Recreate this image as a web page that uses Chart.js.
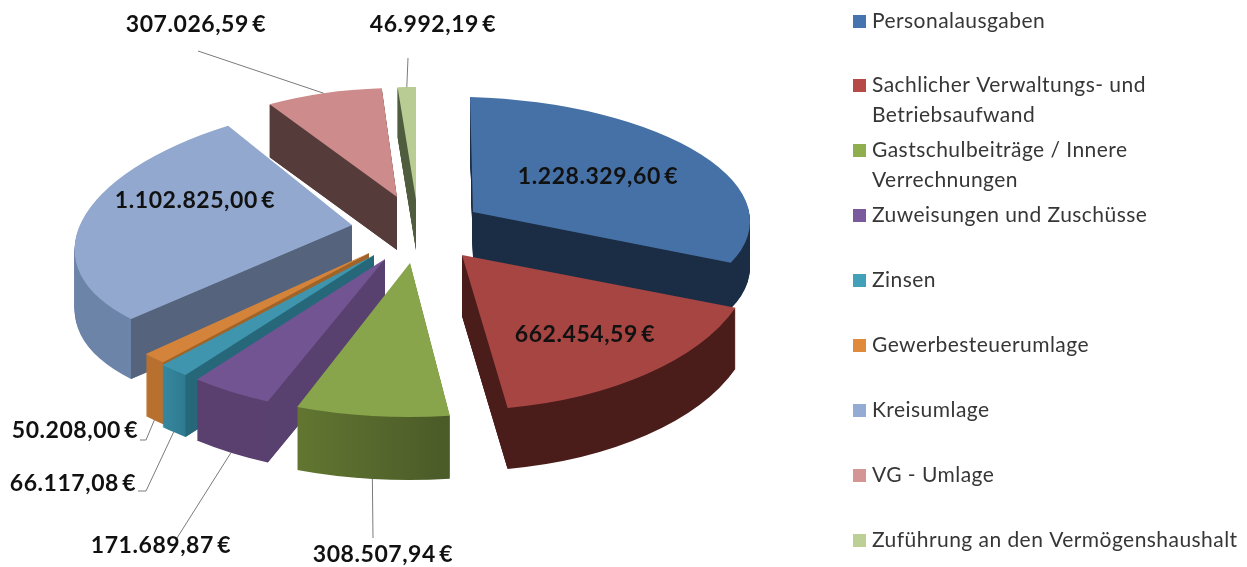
<!DOCTYPE html>
<html><head><meta charset="utf-8">
<script src="https://cdn.jsdelivr.net/npm/chart.js@4/dist/chart.umd.min.js"></script>
<style>html,body{margin:0;padding:0;background:#fff}#wrap{width:1247px;height:567px;position:relative}canvas{filter:blur(.55px)}</style>
</head><body><div id="wrap"><canvas id="c" width="1247" height="567"></canvas></div>
<script>
// ---------- data ----------
const categories = ["Personalausgaben","Sachlicher Verwaltungs- und\nBetriebsaufwand","Gastschulbeiträge / Innere\nVerrechnungen","Zuweisungen und Zuschüsse","Zinsen","Gewerbesteuerumlage","Kreisumlage","VG - Umlage","Zuführung an den Vermögenshaushalt"];
const values = [1228329.60,662454.59,308507.94,171689.87,66117.08,50208.00,1102825.00,307026.59,46992.19];
// ---------- colours ----------
const topColors  = ["#4671a6","#a64542","#88a54c","#725493","#4095ae","#d4833b","#92a8cf","#cd8c8b","#b8cc93"];
const legendColors = ["#4674ae","#b54a47","#8fae4d","#7a5a9c","#42a0b8","#e08a3c","#94abd3","#d59594","#bcd096"];
const wallColors = ["#1b2d44","#4a1c1a","#4a5a28","#58416f","#27677a","#a06428","#55647c","#563b3b","#4f5c3e"];
const rimStart   = ["#1b2d44","#4a1c1a","#4a5a28","#59406e","#2f7a90","#b8702f","#6c84a8","#563b3b","#4f5c3e"];
const rimEnd     = ["#1b2d44","#4a1c1a","#627631","#59406e","#35889f","#b8702f","#8398b9","#563b3b","#4f5c3e"];
// ---------- projected 3D layout of each slice (apex position, plane matrix, extrusion) ----------
const apexX = [473,462,410,385,374,369,352,397,416];
const apexY = [212,255,263,259,255,253,225,197,200];
const planeA = [277,292,316,302,296,305,276,243,246];
const planeB = [3,8,-1,-11,-16,0,-28,-3,0];
const planeC = [8,-6,0,7,0,0,-12,1,0];
const planeD = [115,155,154,155,149,148,125,109,113];
const depth  = [46,61,63,61,62,62,60,53,50];
// ---------- text layout ----------
const valueLabelX = [598,585,383,161,73,75,195,196,433];
const valueLabelY = [177,335,555,546,484,431,201,25,25];
const leaderEnds = [[],[],[[373,538]],[[177,538]],[[146,491],[138,491]],[[146,440],[140,440]],[],[[198,51]],[[408,58]]];
const legendRowY = [21,85,150,215,280,345,410,475,540];

const fmt = v => { const [i,d] = v.toFixed(2).split('.'); return i.replace(/\B(?=(\d{3})+$)/g,'.') + ',' + d + '\u2009€'; };

function rimPoint(i, arc, theta, down){
  const c=Math.cos(theta), s=Math.sin(theta);
  return [apexX[i]+planeA[i]*c+planeB[i]*s, apexY[i]+planeC[i]*c+planeD[i]*s+(down?depth[i]:0)];
}
function applyPlane(ctx,i,arc,dy){
  const R=arc.outerRadius;
  ctx.transform(planeA[i]/R,planeC[i]/R,planeB[i]/R,planeD[i]/R,apexX[i],apexY[i]+dy);
  ctx.translate(-arc.x,-arc.y);
}
const pie3d = {
  id:'pie3d',
  beforeDatasetsDraw(chart){
    const ctx=chart.ctx, arcs=chart.getDatasetMeta(0).data;
    const order=arcs.map((a,i)=>i).sort((p,q)=>Math.sin((arcs[p].startAngle+arcs[p].endAngle)/2)-Math.sin((arcs[q].startAngle+arcs[q].endAngle)/2));
    for(const i of order){
      const arc=arcs[i], keep=arc.options, R=arc.outerRadius;
      const g=ctx.createLinearGradient(arc.x+R*Math.cos(arc.startAngle),0,arc.x+R*Math.cos(arc.endAngle)+0.01,0);
      g.addColorStop(0,rimStart[i]); g.addColorStop(1,rimEnd[i]);
      arc.options=Object.assign({},keep,{backgroundColor:g,borderWidth:0});
      for(let d=depth[i];d>0;d--){ ctx.save(); applyPlane(ctx,i,arc,d); arc.draw(ctx); ctx.restore(); }
      const wall=theta=>{
        const r=rimPoint(i,arc,theta,false), b=rimPoint(i,arc,theta,true);
        ctx.beginPath(); ctx.moveTo(apexX[i],apexY[i]); ctx.lineTo(r[0],r[1]); ctx.lineTo(b[0],b[1]); ctx.lineTo(apexX[i],apexY[i]+depth[i]); ctx.closePath();
        ctx.fillStyle=wallColors[i]; ctx.fill();
      };
      if(Math.cos(arc.startAngle)<-1e-6) wall(arc.startAngle);
      if(Math.cos(arc.endAngle)>1e-6) wall(arc.endAngle);
      arc.options=keep;
      ctx.save(); applyPlane(ctx,i,arc,0); arc.draw(ctx); ctx.restore();
    }
    return false;
  },
  afterDraw(chart){
    const ctx=chart.ctx, arcs=chart.getDatasetMeta(0).data;
    ctx.save(); ctx.strokeStyle='#7a7a7a'; ctx.lineWidth=1;
    arcs.forEach((arc,i)=>{
      if(!leaderEnds[i].length) return;
      const mid=(arc.startAngle+arc.endAngle)/2, p=rimPoint(i,arc,mid,Math.sin(mid)>0);
      ctx.beginPath(); ctx.moveTo(p[0],p[1]); leaderEnds[i].forEach(q=>ctx.lineTo(q[0],q[1])); ctx.stroke();
    });
    ctx.fillStyle='#111'; ctx.font='bold 23px Lato'; ctx.letterSpacing='0.55px'; ctx.textAlign='center'; ctx.textBaseline='middle';
    values.forEach((v,i)=>ctx.fillText(fmt(v),valueLabelX[i],valueLabelY[i]));
    ctx.font='21px Lato'; ctx.letterSpacing='0.45px'; ctx.textAlign='left'; ctx.fillStyle='#363636';
    categories.forEach((t,i)=>{
      ctx.save(); ctx.fillStyle=legendColors[i]; ctx.fillRect(853,legendRowY[i]-6,13,13); ctx.restore();
      t.split('\n').forEach((l,k)=>ctx.fillText(l,872,legendRowY[i]+k*30));
    });
    ctx.restore();
  }
};
new Chart(document.getElementById('c'),{
  type:'pie',
  data:{labels:categories,datasets:[{data:values,backgroundColor:topColors,borderWidth:0}]},
  options:{responsive:false,animation:false,radius:200,plugins:{legend:{display:false},tooltip:{enabled:false}},events:[]},
  plugins:[pie3d]
});
</script></body></html>
